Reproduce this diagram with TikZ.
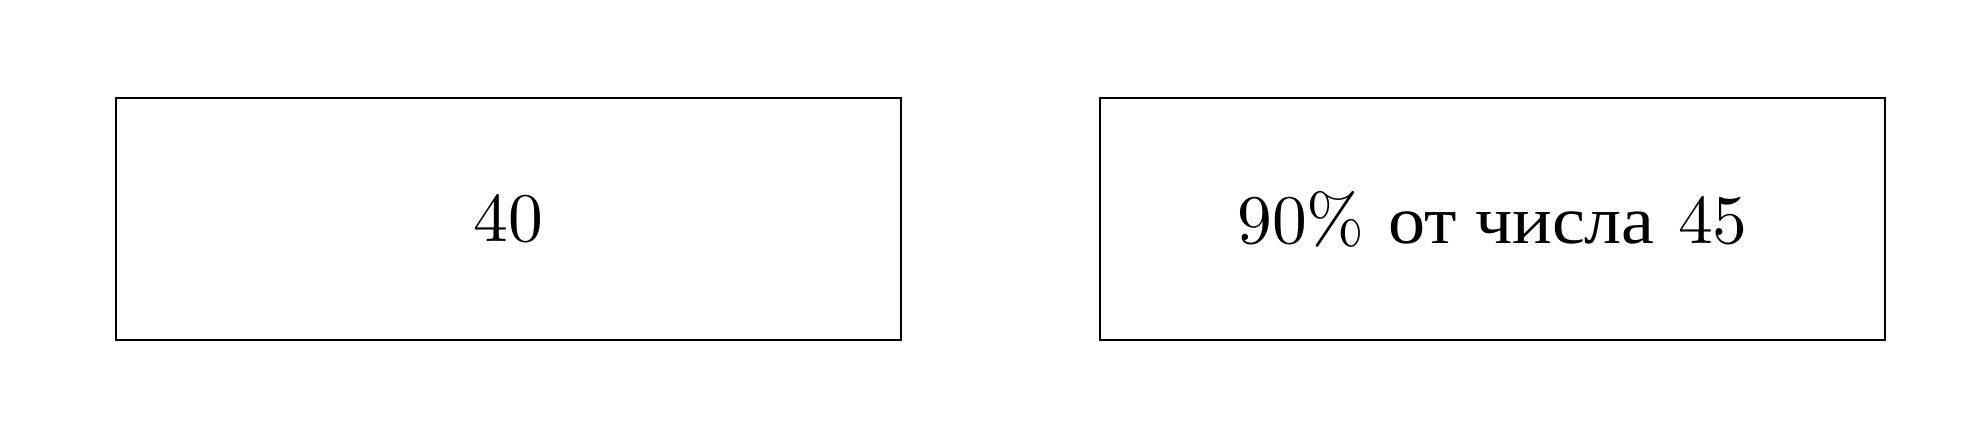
\documentclass[tikz,border=0pt]{standalone}
\usepackage{fontspec}
\newfontfamily\cyrfont[Scale=0.97,FakeStretch=1.1]{Liberation Serif}
\begin{document}
\begin{tikzpicture}[x=0.14388pt,y=-0.14388pt,
  valbox/.style={draw=black,line width=0.4pt,minimum width=785*0.14388pt,minimum height=242*0.14388pt,inner sep=0pt,font=\normalsize}]
\useasboundingbox (0,0) rectangle (1969,441);
\node[valbox] (a) at (508.5,219) {40};
\node[valbox] (b) at (1492.5,219) {90\% {\cyrfont от числа} 45};
\end{tikzpicture}
\end{document}
